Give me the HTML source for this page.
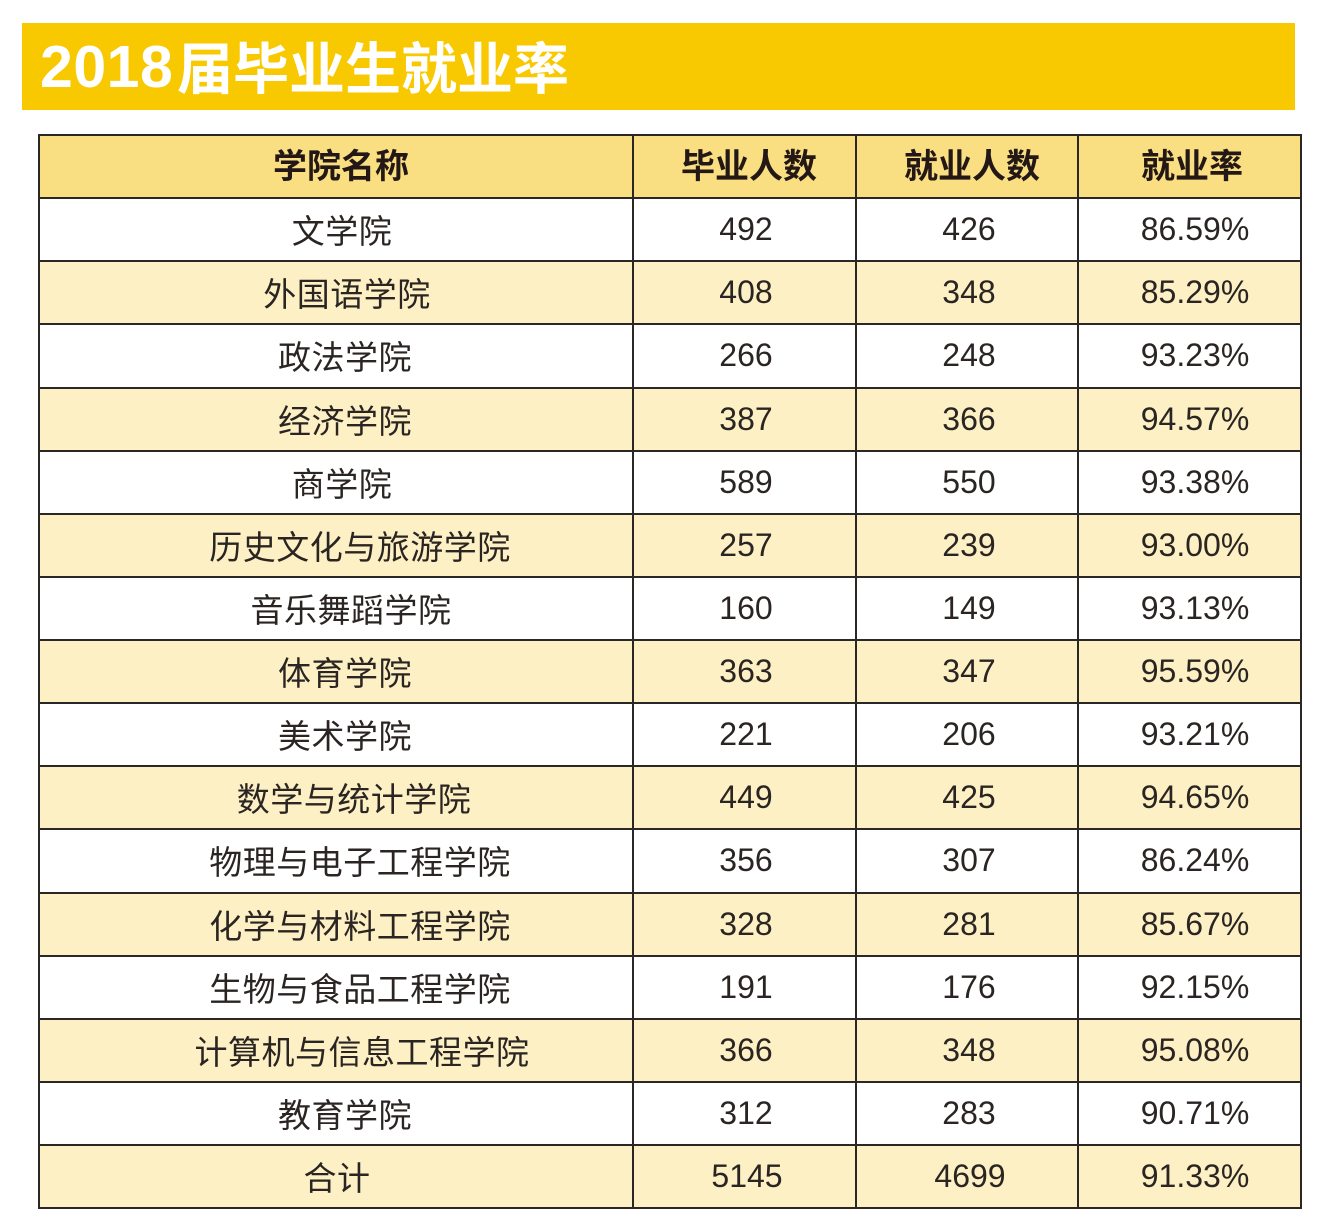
<!DOCTYPE html>
<html><head><meta charset="utf-8">
<style>
html,body{margin:0;padding:0;background:#fff;}
body{width:1326px;height:1231px;position:relative;overflow:hidden;}
.a{position:absolute;}
.bar{left:22px;top:23px;width:1273px;height:87px;background:#f8c900;}
.t1{left:40px;top:27px;height:80px;line-height:80px;font-family:"Liberation Sans",sans-serif;font-weight:bold;font-size:59px;color:#fff;white-space:nowrap;letter-spacing:0.5px;}
.t2{left:177px;top:30px;height:80px;line-height:80px;font-family:"Liberation Sans","Noto Sans CJK SC",sans-serif;font-weight:bold;font-size:56px;color:#fff;white-space:nowrap;}
.bg{left:39px;width:1262px;}
.h{background:#f9de82;}
.y{background:#fdf0c4;}
.hl{left:38px;width:1264px;height:2px;background:#2b2724;}
.vl{top:134px;height:1075px;width:2px;background:#2b2724;}
.c{height:63px;line-height:63px;white-space:nowrap;text-align:center;width:600px;color:#2a2522;}
.n{font-family:"Liberation Sans",sans-serif;font-size:32px;}
.z{font-family:"Liberation Sans","Noto Sans CJK SC",sans-serif;font-size:33px;letter-spacing:0.5px;padding-top:2px;}
.hd{font-family:"Liberation Sans","Noto Sans CJK SC",sans-serif;font-size:34px;font-weight:bold;color:#231815;padding-top:1px;}
</style></head><body>
<div class="a bar"></div>
<div class="a t1">2018</div>
<div class="a t2">届毕业生就业率</div>

<!-- backgrounds -->
<div class="a bg h" style="top:135px;height:63px;"></div>
<div class="a bg y" style="top:261px;height:63px;"></div>
<div class="a bg y" style="top:388px;height:63px;"></div>
<div class="a bg y" style="top:514px;height:63px;"></div>
<div class="a bg y" style="top:640px;height:63px;"></div>
<div class="a bg y" style="top:766px;height:63px;"></div>
<div class="a bg y" style="top:893px;height:63px;"></div>
<div class="a bg y" style="top:1019px;height:63px;"></div>
<div class="a bg y" style="top:1145px;height:63px;"></div>

<!-- horizontal lines -->
<div class="a hl" style="top:134px"></div>
<div class="a hl" style="top:197px"></div>
<div class="a hl" style="top:260px"></div>
<div class="a hl" style="top:323px"></div>
<div class="a hl" style="top:387px"></div>
<div class="a hl" style="top:450px"></div>
<div class="a hl" style="top:513px"></div>
<div class="a hl" style="top:576px"></div>
<div class="a hl" style="top:639px"></div>
<div class="a hl" style="top:702px"></div>
<div class="a hl" style="top:765px"></div>
<div class="a hl" style="top:828px"></div>
<div class="a hl" style="top:892px"></div>
<div class="a hl" style="top:955px"></div>
<div class="a hl" style="top:1018px"></div>
<div class="a hl" style="top:1081px"></div>
<div class="a hl" style="top:1144px"></div>
<div class="a hl" style="top:1207px"></div>

<!-- vertical lines -->
<div class="a vl" style="left:38px"></div>
<div class="a vl" style="left:632px"></div>
<div class="a vl" style="left:855px"></div>
<div class="a vl" style="left:1077px"></div>
<div class="a vl" style="left:1300px"></div>

<!-- header -->
<div class="a c hd" style="top:135px;left:41px">学院名称</div>
<div class="a c hd" style="top:135px;left:449px">毕业人数</div>
<div class="a c hd" style="top:135px;left:672px">就业人数</div>
<div class="a c hd" style="top:135px;left:892px">就业率</div>

<!-- rows -->
<div class="a c z" style="top:198px;left:42px">文学院</div>
<div class="a c n" style="top:198px;left:446px">492</div>
<div class="a c n" style="top:198px;left:669px">426</div>
<div class="a c n" style="top:198px;left:895px">86.59%</div>

<div class="a c z" style="top:261px;left:47px">外国语学院</div>
<div class="a c n" style="top:261px;left:446px">408</div>
<div class="a c n" style="top:261px;left:669px">348</div>
<div class="a c n" style="top:261px;left:895px">85.29%</div>

<div class="a c z" style="top:324px;left:45px">政法学院</div>
<div class="a c n" style="top:324px;left:446px">266</div>
<div class="a c n" style="top:324px;left:669px">248</div>
<div class="a c n" style="top:324px;left:895px">93.23%</div>

<div class="a c z" style="top:388px;left:45px">经济学院</div>
<div class="a c n" style="top:388px;left:446px">387</div>
<div class="a c n" style="top:388px;left:669px">366</div>
<div class="a c n" style="top:388px;left:895px">94.57%</div>

<div class="a c z" style="top:451px;left:42px">商学院</div>
<div class="a c n" style="top:451px;left:446px">589</div>
<div class="a c n" style="top:451px;left:669px">550</div>
<div class="a c n" style="top:451px;left:895px">93.38%</div>

<div class="a c z" style="top:514px;left:60px">历史文化与旅游学院</div>
<div class="a c n" style="top:514px;left:446px">257</div>
<div class="a c n" style="top:514px;left:669px">239</div>
<div class="a c n" style="top:514px;left:895px">93.00%</div>

<div class="a c z" style="top:577px;left:51px">音乐舞蹈学院</div>
<div class="a c n" style="top:577px;left:446px">160</div>
<div class="a c n" style="top:577px;left:669px">149</div>
<div class="a c n" style="top:577px;left:895px">93.13%</div>

<div class="a c z" style="top:640px;left:45px">体育学院</div>
<div class="a c n" style="top:640px;left:446px">363</div>
<div class="a c n" style="top:640px;left:669px">347</div>
<div class="a c n" style="top:640px;left:895px">95.59%</div>

<div class="a c z" style="top:703px;left:45px">美术学院</div>
<div class="a c n" style="top:703px;left:446px">221</div>
<div class="a c n" style="top:703px;left:669px">206</div>
<div class="a c n" style="top:703px;left:895px">93.21%</div>

<div class="a c z" style="top:766px;left:54px">数学与统计学院</div>
<div class="a c n" style="top:766px;left:446px">449</div>
<div class="a c n" style="top:766px;left:669px">425</div>
<div class="a c n" style="top:766px;left:895px">94.65%</div>

<div class="a c z" style="top:829px;left:60px">物理与电子工程学院</div>
<div class="a c n" style="top:829px;left:446px">356</div>
<div class="a c n" style="top:829px;left:669px">307</div>
<div class="a c n" style="top:829px;left:895px">86.24%</div>

<div class="a c z" style="top:893px;left:60px">化学与材料工程学院</div>
<div class="a c n" style="top:893px;left:446px">328</div>
<div class="a c n" style="top:893px;left:669px">281</div>
<div class="a c n" style="top:893px;left:895px">85.67%</div>

<div class="a c z" style="top:956px;left:60px">生物与食品工程学院</div>
<div class="a c n" style="top:956px;left:446px">191</div>
<div class="a c n" style="top:956px;left:669px">176</div>
<div class="a c n" style="top:956px;left:895px">92.15%</div>

<div class="a c z" style="top:1019px;left:62px">计算机与信息工程学院</div>
<div class="a c n" style="top:1019px;left:446px">366</div>
<div class="a c n" style="top:1019px;left:669px">348</div>
<div class="a c n" style="top:1019px;left:895px">95.08%</div>

<div class="a c z" style="top:1082px;left:45px">教育学院</div>
<div class="a c n" style="top:1082px;left:446px">312</div>
<div class="a c n" style="top:1082px;left:669px">283</div>
<div class="a c n" style="top:1082px;left:895px">90.71%</div>

<div class="a c z" style="top:1145px;left:37px">合计</div>
<div class="a c n" style="top:1145px;left:447px">5145</div>
<div class="a c n" style="top:1145px;left:670px">4699</div>
<div class="a c n" style="top:1145px;left:895px">91.33%</div>
</body></html>
